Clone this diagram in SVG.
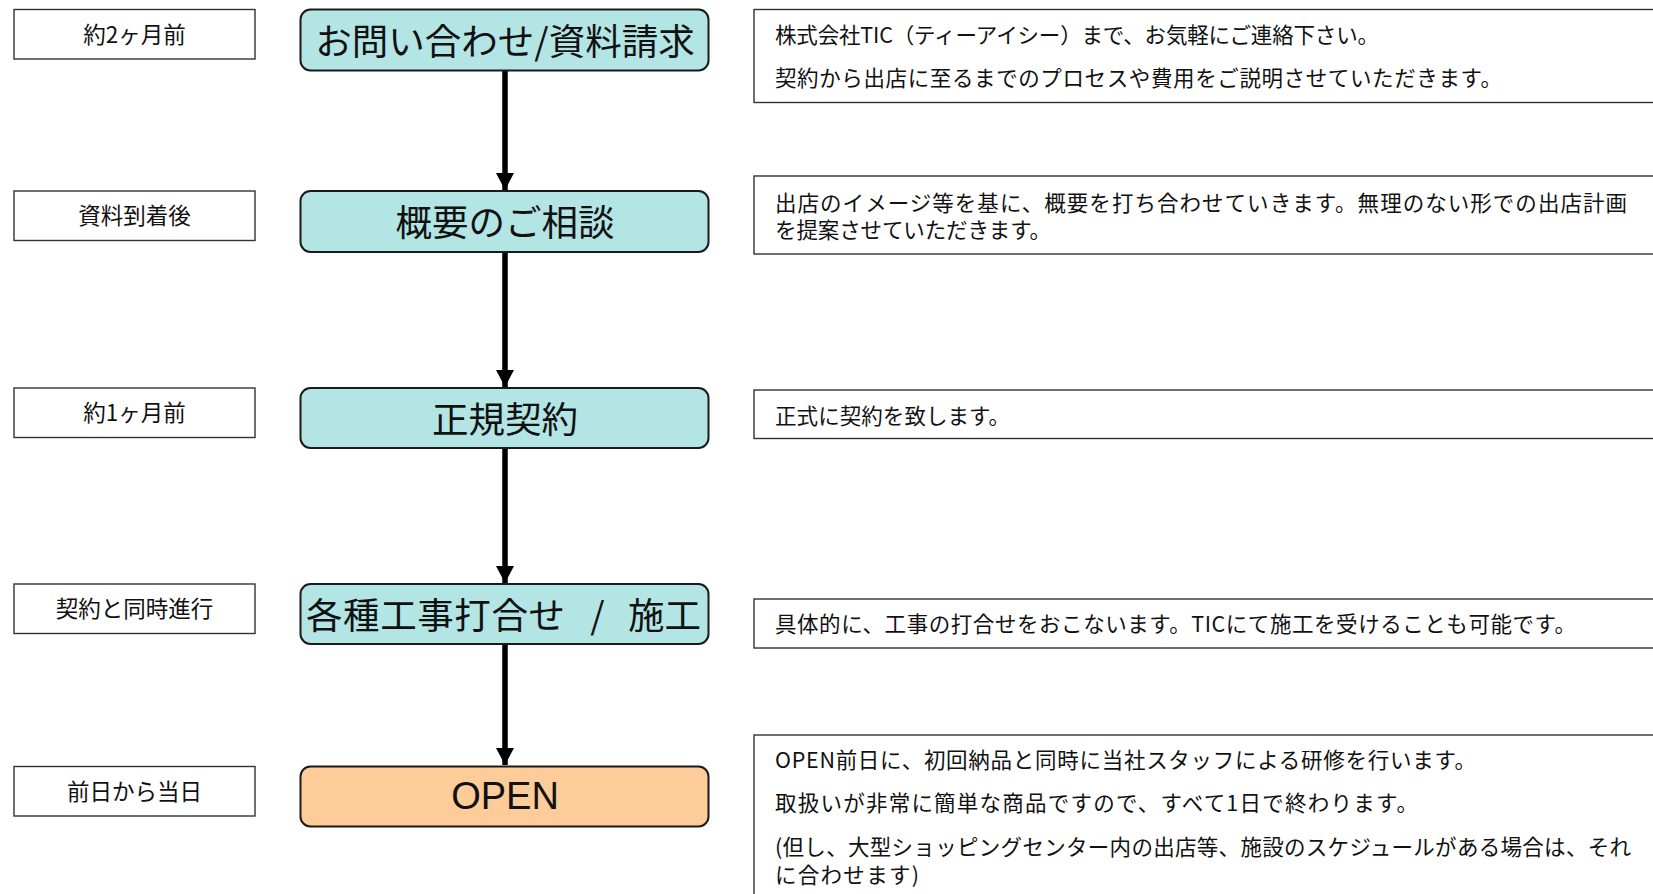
<svg xmlns="http://www.w3.org/2000/svg" width="1653" height="894" viewBox="0 0 1653 894">
<defs>
<style>
.lbox{fill:#ffffff;stroke:#333333;stroke-width:1.4}
.ltxt{font-family:"Noto Sans CJK JP","Noto Sans",sans-serif;font-size:22.5px;fill:#111111;text-anchor:middle;dominant-baseline:central}
.mbox{fill:#b3e5e5;stroke:#1a1a1a;stroke-width:2}
.obox{fill:#fecc99;stroke:#1a1a1a;stroke-width:2}
.mtxt{font-family:"Noto Sans CJK JP","Noto Sans",sans-serif;font-size:36.5px;fill:#111111;text-anchor:middle;dominant-baseline:central}
.otxt{font-family:"Liberation Sans",Arial,sans-serif;font-size:38px;fill:#111111;text-anchor:middle;dominant-baseline:central}
.rbox{fill:#ffffff;stroke:#333333;stroke-width:1.4}
.rtxt{font-family:"Noto Sans CJK JP","Noto Sans",sans-serif;font-size:21.5px;fill:#111111;dominant-baseline:central}
.conn{stroke:#000000;stroke-width:5.5;fill:none}
</style>
<marker id="ah" markerUnits="userSpaceOnUse" markerWidth="18" markerHeight="18" refX="17" refY="9" orient="auto">
<path d="M0,0 L17,9 L0,18 Z" fill="#000000"/>
</marker>
</defs>
<rect width="1653" height="894" fill="#ffffff"/>

<g id="connectors">
<line class="conn" x1="505" y1="71" x2="505" y2="190" marker-end="url(#ah)"/>
<line class="conn" x1="505" y1="252" x2="505" y2="387" marker-end="url(#ah)"/>
<line class="conn" x1="505" y1="448" x2="505" y2="583" marker-end="url(#ah)"/>
<line class="conn" x1="505" y1="644" x2="505" y2="765" marker-end="url(#ah)"/>
</g>

<g id="label-1"><rect class="lbox" x="14" y="9.5" width="241" height="49.5"/><text class="ltxt" x="134.5" y="33">約2ヶ月前</text></g>
<g id="label-2"><rect class="lbox" x="14" y="191" width="241" height="49.5"/><text class="ltxt" x="134.5" y="214">資料到着後</text></g>
<g id="label-3"><rect class="lbox" x="14" y="388" width="241" height="49.5"/><text class="ltxt" x="134.5" y="411">約1ヶ月前</text></g>
<g id="label-4"><rect class="lbox" x="14" y="584" width="241" height="49.5"/><text class="ltxt" x="134.5" y="607">契約と同時進行</text></g>
<g id="label-5"><rect class="lbox" x="14" y="766.5" width="241" height="49.5"/><text class="ltxt" x="134.5" y="789.5">前日から当日</text></g>

<g id="step-1"><rect class="mbox" x="300.5" y="9.5" width="408" height="61" rx="10"/><text class="mtxt" x="505" y="39">お問い合わせ/資料請求</text></g>
<g id="step-2"><rect class="mbox" x="300.5" y="191" width="408" height="61" rx="10"/><text class="mtxt" x="505" y="220">概要のご相談</text></g>
<g id="step-3"><rect class="mbox" x="300.5" y="388" width="408" height="60" rx="10"/><text class="mtxt" x="505" y="417">正規契約</text></g>
<g id="step-4"><rect class="mbox" x="300.5" y="584" width="408" height="60" rx="10"/><text class="mtxt" style="text-anchor:start" x="306" y="613"><tspan textLength="259">各種工事打合せ</tspan><tspan x="582"> / </tspan><tspan x="628">施工</tspan></text></g>
<g id="step-5"><rect class="obox" x="300.5" y="766.5" width="408" height="60" rx="10"/><text class="otxt" x="505" y="796">OPEN</text></g>

<g id="desc-1"><rect class="rbox" x="754" y="9.5" width="960" height="93"/>
<text class="rtxt" x="775" y="33" textLength="604">株式会社TIC（ティーアイシー）まで、お気軽にご連絡下さい。</text>
<text class="rtxt" x="775" y="76.5" textLength="727">契約から出店に至るまでのプロセスや費用をご説明させていただきます。</text></g>
<g id="desc-2"><rect class="rbox" x="754" y="176" width="960" height="78"/>
<text class="rtxt" x="775" y="201" textLength="852">出店のイメージ等を基に、概要を打ち合わせていきます。無理のない形での出店計画</text>
<text class="rtxt" x="775" y="228" textLength="276">を提案させていただきます。</text></g>
<g id="desc-3"><rect class="rbox" x="754" y="390" width="960" height="48.5"/>
<text class="rtxt" x="775" y="414" textLength="235">正式に契約を致します。</text></g>
<g id="desc-4"><rect class="rbox" x="754" y="599" width="960" height="49"/>
<text class="rtxt" x="775" y="622.5" textLength="801">具体的に、工事の打合せをおこないます。TICにて施工を受けることも可能です。</text></g>
<g id="desc-5"><rect class="rbox" x="754" y="735" width="960" height="220"/>
<text class="rtxt" x="775" y="758.5" textLength="701">OPEN前日に、初回納品と同時に当社スタッフによる研修を行います。</text>
<text class="rtxt" x="775" y="801.5" textLength="643">取扱いが非常に簡単な商品ですので、すべて1日で終わります。</text>
<text class="rtxt" x="775" y="845" textLength="856">(但し、大型ショッピングセンター内の出店等、施設のスケジュールがある場合は、それ</text>
<text class="rtxt" x="775" y="873.5" textLength="144">に合わせます)</text></g>
</svg>
